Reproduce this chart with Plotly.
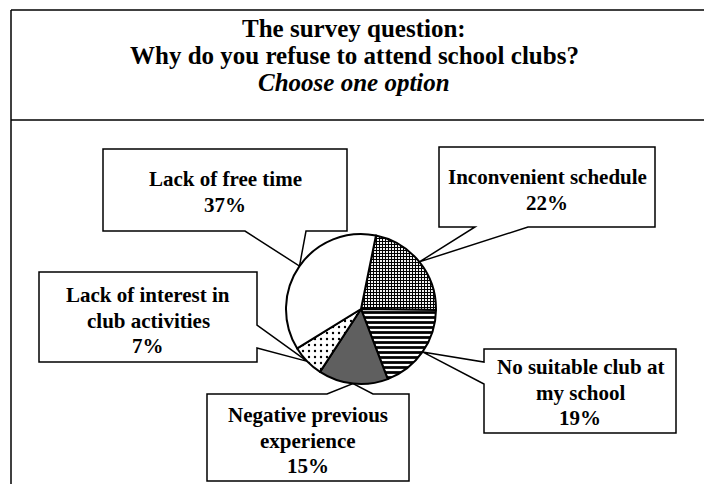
import math
import plotly.graph_objects as go

W, H = 704, 484

# ---- data ----
categories = ["Inconvenient schedule", "No suitable club at my school",
              "Negative previous experience", "Lack of interest in club activities",
              "Lack of free time"]
values = [22, 19, 15, 7, 37]
label_lines = [["Inconvenient schedule", "22%"],
               ["No suitable club at", "my school", "19%"],
               ["Negative previous", "experience", "15%"],
               ["Lack of interest in", "club activities", "7%"],
               ["Lack of free time", "37%"]]
title_lines = ["The survey question:", "Why do you refuse to attend school clubs?"]
subtitle = "Choose one option"

# ---- style / layout ----
colors = ["white", "white", "#5f5f5f", "white", "white"]
shapes_pat = ["+", "-", "", ".", ""]
pat_size = [3, 5, 8, 6, 8]
pat_sol = [0.6, 0.55, 0.3, 0.12, 0.3]
ROT = 11.5
CX, CY, R = 361, 309, 75  # pie centre / radius in px

def px(x):
    return x / W

def py(y):
    return 1 - y / H

FONT = "Liberation Serif"

fig = go.Figure()
fig.add_trace(go.Pie(
    labels=categories, values=values, sort=False, direction="clockwise",
    rotation=ROT, textinfo="none", hoverinfo="label+percent", showlegend=False,
    domain=dict(x=[px(CX - R), px(CX + R)], y=[py(CY + R), py(CY - R)]),
    marker=dict(colors=colors, line=dict(color="black", width=2),
                pattern=dict(shape=shapes_pat, fgcolor="black", bgcolor=colors,
                             size=pat_size, solidity=pat_sol, fillmode="replace")),
))

# callout boxes: (left, top, right, bottom, side, notch_a, notch_b, text_top_centre_y)
boxes = [
    (439, 147, 655, 227, "bottom", 475, 528, 177),
    (484, 349, 676, 433, "left", 362, 384, 367),
    (207, 394, 409, 481, "top", 327, 373, 415),
    (39, 272, 257, 362, "right", 325, 348, 295),
    (103, 149, 347, 231, "bottom", 245, 306, 179),
]

total = sum(values)
cum = 0
shapes = []
annotations = []
for i, v in enumerate(values):
    ang = math.radians(ROT + 360 * (cum + v / 2) / total)
    cum += v
    tx, ty = CX + R * math.sin(ang), CY - R * math.cos(ang)
    l, t, r, b, side, na, nb, ty0 = boxes[i]
    if side == "bottom":
        pts = [(l, t), (r, t), (r, b), (nb, b), (tx, ty), (na, b), (l, b)]
    elif side == "top":
        pts = [(l, t), (na, t), (tx, ty), (nb, t), (r, t), (r, b), (l, b)]
    elif side == "left":
        pts = [(l, t), (r, t), (r, b), (l, b), (l, nb), (tx, ty), (l, na)]
    else:
        pts = [(l, t), (r, t), (r, na), (tx, ty), (r, nb), (r, b), (l, b)]
    path = "M " + " L ".join(f"{px(a):.5f},{py(c):.5f}" for a, c in pts) + " Z"
    shapes.append(dict(type="path", path=path, xref="paper", yref="paper",
                       fillcolor="white", line=dict(color="black", width=1.5),
                       layer="below"))
    for k, line in enumerate(label_lines[i]):
        annotations.append(dict(text=f"<b>{line}</b>", x=px((l + r) / 2),
                                y=py(ty0 + 25.5 * k), xref="paper", yref="paper",
                                xanchor="center", yanchor="middle", showarrow=False,
                                font=dict(family=FONT, size=21, color="black")))

# title
for k, line in enumerate(title_lines):
    annotations.append(dict(text=f"<b>{line}</b>", x=px(354), y=py(28 + 27 * k),
                            xref="paper", yref="paper", xanchor="center",
                            yanchor="middle", showarrow=False,
                            font=dict(family=FONT, size=25, color="black")))
annotations.append(dict(text=f"<b><i>{subtitle}</i></b>", x=px(354), y=py(82),
                        xref="paper", yref="paper", xanchor="center",
                        yanchor="middle", showarrow=False,
                        font=dict(family=FONT, size=25, color="black")))

# frame
for (x0, y0, x1, y1) in [(11, 10, 11, 484), (11, 10, 704, 10), (11, 120, 704, 120)]:
    shapes.append(dict(type="line", xref="paper", yref="paper",
                       x0=px(x0), y0=py(y0), x1=px(x1), y1=py(y1),
                       line=dict(color="black", width=1.5)))

fig.update_layout(width=W, height=H, margin=dict(l=0, r=0, t=0, b=0),
                  paper_bgcolor="white", plot_bgcolor="white",
                  shapes=shapes, annotations=annotations)
fig.write_html("out.html")
